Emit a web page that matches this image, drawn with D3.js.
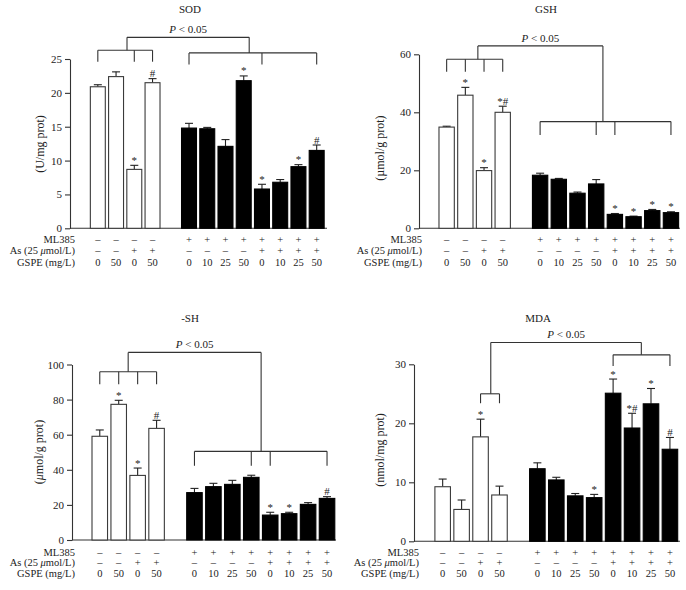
<!DOCTYPE html>
<html>
<head>
<meta charset="utf-8">
<script src="https://cdn.jsdelivr.net/npm/d3@7"></script>
<style>
  html, body { margin: 0; padding: 0; background: #fff; }
  svg text { font-family: "Liberation Serif", "DejaVu Serif", serif; fill: #222; }
</style>
</head>
<body>
<svg id="chart" width="686" height="590"></svg>
<script>
// ---------- data ----------
const rowLabels = ["ML385", "As (25 μmol/L)", "GSPE (mg/L)"];
const ml385Row = ["–","–","–","–","+","+","+","+","+","+","+","+"];
const asRow    = ["–","–","+","+","–","–","–","–","+","+","+","+"];
const gspeRow  = ["0","50","0","50","0","10","25","50","0","10","25","50"];

const sodMean  = [20.9, 22.4, 8.7, 21.5, 14.8, 14.7, 12.1, 21.8, 5.8, 6.8, 9.1, 11.5];
const sodErr   = [0.3, 0.7, 0.6, 0.6, 0.7, 0.2, 1.0, 0.7, 0.7, 0.4, 0.3, 0.8];
const sodMarks = ["", "", "*", "#", "", "", "", "*", "*", "", "*", "#"];
const sodTicks = [0, 5, 10, 15, 20, 25];

const gshMean  = [34.9, 45.9, 19.9, 40.0, 18.3, 16.9, 12.1, 15.3, 4.8, 4.0, 6.1, 5.4];
const gshErr   = [0.3, 2.7, 1.0, 2.1, 0.7, 0.3, 0.4, 1.5, 0.3, 0.2, 0.4, 0.3];
const gshMarks = ["", "*", "*", "*#", "", "", "", "", "*", "*", "*", "*"];
const gshTicks = [0, 20, 40, 60];

const shMean   = [59.1, 77.3, 36.8, 63.6, 27.0, 30.4, 31.7, 35.7, 14.2, 15.0, 20.3, 23.7];
const shErr    = [3.6, 2.3, 4.2, 4.6, 2.4, 1.9, 2.3, 1.2, 1.6, 0.8, 1.0, 1.0];
const shMarks  = ["", "*", "*", "#", "", "", "", "", "*", "*", "", "#"];
const shTicks  = [0, 20, 40, 60, 80, 100];

const mdaMean  = [9.25, 5.4, 17.7, 7.85, 12.3, 10.4, 7.7, 7.4, 25.1, 19.2, 23.3, 15.6];
const mdaErr   = [1.3, 1.6, 3.0, 1.5, 1.0, 0.45, 0.4, 0.55, 2.4, 2.5, 2.6, 2.0];
const mdaMarks = ["", "", "*", "", "", "", "", "*", "*", "*#", "*", "#"];
const mdaTicks = [0, 10, 20, 30];

// significance brackets (data units, bar indices)
const sodBracket = { top: 28.2, groups: [
  { bars: [0, 2, 3], y: 26.3, end: 24.6, join: 1.6 },
  { bars: [4, 8, 11], y: 25.9, end: 24.2, join: 8.3 } ] };
const gshBracket = { top: 62.9, groups: [
  { bars: [0, 1, 2, 3], y: 58.3, end: 54.0, join: 1.67 },
  { bars: [4, 7, 8, 11], y: 36.8, end: 32.2, join: 8.36 } ] };
const shBracket = { top: 106.9, groups: [
  { bars: [0, 1, 2, 3], y: 95.9, end: 88.7, join: 1.5 },
  { bars: [4, 7, 8, 11], y: 50.5, end: 42.3, join: 8.52 } ] };
const mdaBracket = { top: 33.7, groups: [
  { bars: [2, 3], y: 25.0, end: 23.4, join: 2.54 },
  { bars: [8, 11], y: 31.6, end: 29.7, join: 10.49 } ] };

// ---------- layout ----------
const panels = [
  { title: "SOD", ylabel: ["(U/mg prot)"], mean: sodMean, err: sodErr, marks: sodMarks, ticks: sodTicks, bracket: sodBracket,
    domain: [0, 25], yRange: [228.3, 59], axisX: 70, xRange: [88.7, 325.8], axisEnd: 327,
    titlePos: [190, 10], ylabelPos: [41.7, 144], rowX: 75, rowY: [240.5, 251.7, 263.3] },
  { title: "GSH", ylabel: ["(µmol/g prot)"], mean: gshMean, err: gshErr, marks: gshMarks, ticks: gshTicks, bracket: gshBracket,
    domain: [0, 60], yRange: [228.3, 54.3], axisX: 419, xRange: [437.3, 680.3], axisEnd: 680,
    titlePos: [546, 10], ylabelPos: [381.3, 148], rowX: 422, rowY: [240.5, 251.7, 263.3] },
  { title: "-SH", ylabel: ["(", "μ", "mol/g prot)"], mean: shMean, err: shErr, marks: shMarks, ticks: shTicks, bracket: shBracket,
    domain: [0, 100], yRange: [540, 364.5], axisX: 72, xRange: [90.3, 336.5], axisEnd: 336,
    titlePos: [190, 319], ylabelPos: [40, 452], rowX: 75, rowY: [553.5, 564, 575] },
  { title: "MDA", ylabel: ["(nmol/mg prot)"], mean: mdaMean, err: mdaErr, marks: mdaMarks, ticks: mdaTicks, bracket: mdaBracket,
    domain: [0, 30], yRange: [541.3, 364.3], axisX: 414, xRange: [433.2, 679.4], axisEnd: 680,
    titlePos: [538, 319], ylabelPos: [381.3, 450], rowX: 419, rowY: [553.5, 564, 575] }
];

const svg = d3.select("#chart");
const slotOf = i => (i < 4 ? i : i + 1);
const rows = [ml385Row, asRow, gspeRow];

panels.forEach(p => {
  const g = svg.append("g");
  const x = d3.scaleBand().domain(d3.range(13).map(String)).range(p.xRange)
    .paddingInner(0.18).paddingOuter(0.09);
  const cx = s => {
    const f = Math.floor(s);
    return x(String(f)) + x.bandwidth() / 2 + (s - f) * x.step();
  };
  const bx = i => cx(slotOf(i));
  const y = d3.scaleLinear().domain(p.domain).range(p.yRange);

  // y axis
  const ax = g.append("g").attr("transform", `translate(${p.axisX},0)`)
    .call(d3.axisLeft(y).tickValues(p.ticks).tickSize(5).tickSizeOuter(0).tickPadding(3));
  ax.select(".domain").attr("stroke", "#333").attr("stroke-width", 1.1);
  ax.selectAll(".tick line").attr("stroke", "#333").attr("stroke-width", 1.1);
  ax.selectAll(".tick text").style("font-family", '"Liberation Serif", serif')
    .style("font-size", "11px").attr("fill", "#222");

  // x baseline
  g.append("line").attr("x1", p.axisX).attr("x2", p.axisEnd)
    .attr("y1", y(0)).attr("y2", y(0)).attr("stroke", "#333").attr("stroke-width", 1.1);

  const data = p.mean.map((m, i) => ({ i, m, e: p.err[i], mark: p.marks[i] }));

  // error bars
  const eb = g.append("g").selectAll("g").data(data).join("g");
  eb.append("line").attr("x1", d => bx(d.i)).attr("x2", d => bx(d.i))
    .attr("y1", d => y(d.m)).attr("y2", d => y(d.m + d.e))
    .attr("stroke", "#222").attr("stroke-width", 1.1);
  eb.append("line").attr("x1", d => bx(d.i) - 4).attr("x2", d => bx(d.i) + 4)
    .attr("y1", d => y(d.m + d.e)).attr("y2", d => y(d.m + d.e))
    .attr("stroke", "#222").attr("stroke-width", 1.1);

  // bars
  g.append("g").selectAll("rect").data(data).join("rect")
    .attr("x", d => x(String(slotOf(d.i))))
    .attr("width", x.bandwidth())
    .attr("y", d => y(d.m))
    .attr("height", d => y(0) - y(d.m))
    .attr("fill", d => d.i < 4 ? "#fff" : "#000")
    .attr("stroke", d => d.i < 4 ? "#3a3a3a" : "#000")
    .attr("stroke-width", 1.1);

  // significance marks
  g.append("g").selectAll("text").data(data.filter(d => d.mark)).join("text")
    .attr("x", d => bx(d.i)).attr("y", d => y(d.m + d.e) - 1.5)
    .attr("text-anchor", "middle").style("font-size", "11px")
    .text(d => d.mark);

  // brackets
  const b = p.bracket;
  const lineStyle = sel => sel.attr("stroke", "#333").attr("stroke-width", 1.1).attr("fill", "none");
  const joins = [];
  b.groups.forEach(gr => {
    const xs = gr.bars.map(bx);
    lineStyle(g.append("line").attr("x1", d3.min(xs)).attr("x2", d3.max(xs))
      .attr("y1", y(gr.y)).attr("y2", y(gr.y)));
    xs.forEach(xx => lineStyle(g.append("line").attr("x1", xx).attr("x2", xx)
      .attr("y1", y(gr.y)).attr("y2", y(gr.end))));
    const jx = cx(gr.join);
    joins.push(jx);
    lineStyle(g.append("line").attr("x1", jx).attr("x2", jx)
      .attr("y1", y(b.top)).attr("y2", y(gr.y)));
  });
  lineStyle(g.append("line").attr("x1", joins[0]).attr("x2", joins[1])
    .attr("y1", y(b.top)).attr("y2", y(b.top)));
  const pt = g.append("text").attr("x", (joins[0] + joins[1]) / 2).attr("y", y(b.top) - 4)
    .attr("text-anchor", "middle").style("font-size", "11px");
  pt.append("tspan").style("font-style", "italic").text("P");
  pt.append("tspan").text(" < 0.05");

  // title
  g.append("text").attr("x", p.titlePos[0]).attr("y", p.titlePos[1])
    .attr("text-anchor", "middle").attr("dominant-baseline", "middle")
    .style("font-size", "11px").text(p.title);

  // y label
  const yl = g.append("text")
    .attr("transform", `translate(${p.ylabelPos[0]},${p.ylabelPos[1]}) rotate(-90)`)
    .attr("text-anchor", "middle").attr("dominant-baseline", "middle")
    .style("font-size", "12px");
  if (p.ylabel.length === 1) yl.text(p.ylabel[0]);
  else {
    yl.append("tspan").text(p.ylabel[0]);
    yl.append("tspan").style("font-style", "italic").text(p.ylabel[1]);
    yl.append("tspan").text(p.ylabel[2]);
  }

  // condition rows
  rowLabels.forEach((lab, r) => {
    const t = g.append("text").attr("x", p.rowX).attr("y", p.rowY[r])
      .attr("text-anchor", "end").attr("dominant-baseline", "middle")
      .style("font-size", "10.5px");
    if (r === 1) {
      t.append("tspan").text("As (25 ");
      t.append("tspan").style("font-style", "italic").text("μ");
      t.append("tspan").text("mol/L)");
    } else t.text(lab);
    g.append("g").selectAll("text").data(rows[r]).join("text")
      .attr("x", (d, i) => bx(i)).attr("y", p.rowY[r])
      .attr("text-anchor", "middle").attr("dominant-baseline", "middle")
      .style("font-size", "10.5px").text(d => d);
  });
});
</script>
</body>
</html>
